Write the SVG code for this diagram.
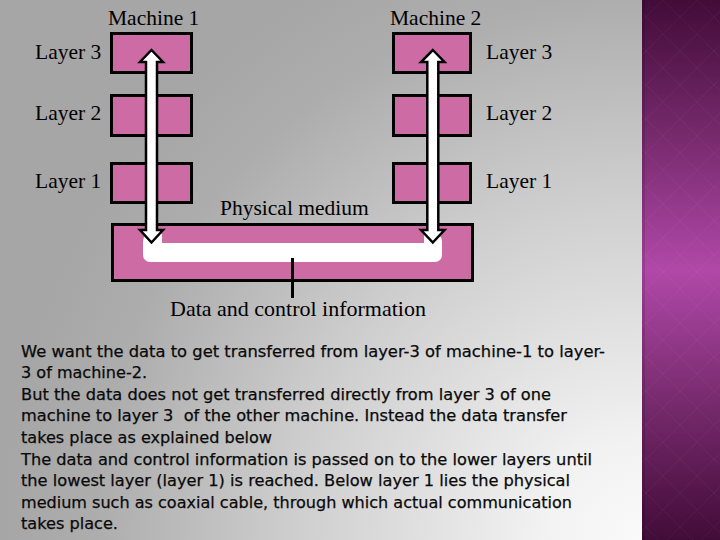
<svg xmlns="http://www.w3.org/2000/svg" width="720" height="540" viewBox="0 0 720 540">
  <defs>
    <radialGradient id="bg" gradientUnits="userSpaceOnUse" cx="640" cy="540" r="640">
      <stop offset="0" stop-color="#fafafa"/>
      <stop offset="0.15" stop-color="#f2f2f2"/>
      <stop offset="0.55" stop-color="#cdcdcd"/>
      <stop offset="0.85" stop-color="#adadad"/>
      <stop offset="1" stop-color="#a6a6a6"/>
    </radialGradient>
    <linearGradient id="panel" x1="0" y1="0" x2="0" y2="1">
      <stop offset="0" stop-color="#420c38"/>
      <stop offset="0.25" stop-color="#762a6c"/>
      <stop offset="0.5" stop-color="#b048a8"/>
      <stop offset="0.75" stop-color="#762a6c"/>
      <stop offset="1" stop-color="#420c38"/>
    </linearGradient>
    <pattern id="diamonds" width="34" height="34" patternUnits="userSpaceOnUse">
      <path d="M0 17 L17 0 L34 17 L17 34 Z" fill="none" stroke="#ffffff" stroke-opacity="0.04" stroke-width="1"/>
    </pattern>
    <style>
      .box { fill: #cd6ba5; stroke: #000; stroke-width: 3; }
      .lbl { font-family: "Liberation Serif", "Times New Roman", serif; font-size: 21.5px; fill: #000; }
      .arrow { fill: #fff; stroke: #000; stroke-width: 2.5; stroke-linejoin: miter; }
      .para { font-family: "DejaVu Sans", "Liberation Sans", sans-serif; font-size: 15.5px; fill: #0a0a0a; stroke: #0a0a0a; stroke-width: 0.25; }
    </style>
  </defs>

  <rect x="0" y="0" width="642" height="540" fill="url(#bg)"/>
  <rect x="642" y="0" width="78" height="540" fill="url(#panel)"/>
  <rect x="642" y="0" width="78" height="540" fill="url(#diamonds)"/>
  <rect x="642" y="0" width="3" height="540" fill="#000" fill-opacity="0.12"/>

  <text class="lbl" x="108" y="25">Machine 1</text>
  <text class="lbl" x="390" y="25">Machine 2</text>

  <g id="m1-layer3">
    <rect class="box" x="111.5" y="33.5" width="80" height="39"/>
    <text class="lbl" x="35" y="59">Layer 3</text>
  </g>
  <g id="m1-layer2">
    <rect class="box" x="111.5" y="95.5" width="80" height="40"/>
    <text class="lbl" x="35" y="120">Layer 2</text>
  </g>
  <g id="m1-layer1">
    <rect class="box" x="111.5" y="163.5" width="80" height="39"/>
    <text class="lbl" x="35" y="188">Layer 1</text>
  </g>
  <g id="m2-layer3">
    <rect class="box" x="393.5" y="33.5" width="77" height="39"/>
    <text class="lbl" x="486" y="59">Layer 3</text>
  </g>
  <g id="m2-layer2">
    <rect class="box" x="393.5" y="95.5" width="77" height="40"/>
    <text class="lbl" x="486" y="120">Layer 2</text>
  </g>
  <g id="m2-layer1">
    <rect class="box" x="393.5" y="163.5" width="77" height="39"/>
    <text class="lbl" x="486" y="188">Layer 1</text>
  </g>

  <g id="physical-medium">
    <rect class="box" x="112.5" y="224.5" width="360" height="56"/>
    <rect x="143" y="234" width="299" height="28" rx="7" fill="#fff"/>
    <rect x="162" y="226" width="262" height="17" fill="#cd6ba5"/>
    <text class="lbl" x="220" y="215">Physical medium</text>
  </g>

  <g id="connectors">
    <polygon class="arrow" points="151.5,50 163,62 157,62 157,230 163,230 151.5,242.5 140,230 146,230 146,62 140,62"/>
    <polygon class="arrow" points="432.8,50 444.5,62 438.3,62 438.3,230 444.5,230 432.8,242.5 421,230 427.3,230 427.3,62 421,62"/>
    <line x1="292.5" y1="258" x2="292.5" y2="298" stroke="#000" stroke-width="3"/>
  </g>

  <text class="lbl" x="170" y="316" style="font-size:22px">Data and control information</text>

  <g id="description" class="para">
    <text x="21" y="357" textLength="584" lengthAdjust="spacingAndGlyphs">We want the data to get transferred from layer-3 of machine-1 to layer-</text>
    <text x="21" y="378" textLength="126" lengthAdjust="spacingAndGlyphs">3 of machine-2.</text>
    <text x="21" y="400" textLength="530" lengthAdjust="spacingAndGlyphs">But the data does not get transferred directly from layer 3 of one</text>
    <text x="21" y="421" textLength="546" lengthAdjust="spacingAndGlyphs" xml:space="preserve">machine to layer 3  of the other machine. Instead the data transfer</text>
    <text x="21" y="443" textLength="251" lengthAdjust="spacingAndGlyphs">takes place as explained below</text>
    <text x="21" y="465" textLength="571" lengthAdjust="spacingAndGlyphs">The data and control information is passed on to the lower layers until</text>
    <text x="21" y="486" textLength="549" lengthAdjust="spacingAndGlyphs">the lowest layer (layer 1) is reached. Below layer 1 lies the physical</text>
    <text x="21" y="508" textLength="551" lengthAdjust="spacingAndGlyphs">medium such as coaxial cable, through which actual communication</text>
    <text x="21" y="529" textLength="97" lengthAdjust="spacingAndGlyphs">takes place.</text>
  </g>
</svg>
